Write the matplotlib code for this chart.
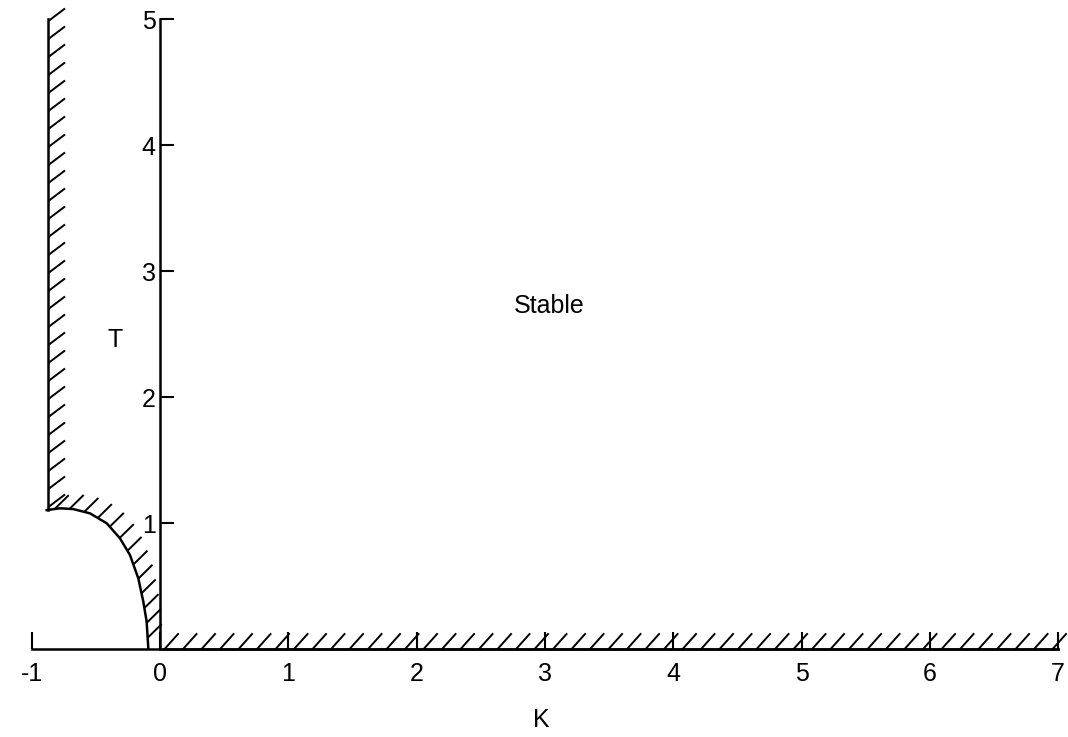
import numpy as np
import matplotlib
matplotlib.use("Agg")
import matplotlib.pyplot as plt
from matplotlib.collections import LineCollection

plt.rcParams['font.family'] = ['Liberation Sans', 'DejaVu Sans']
plt.rcParams['axes.unicode_minus'] = False

# stability boundary
wall_K = [-0.87, -0.87]
wall_T = [5.0, 1.10]
curve_K = [-0.883, -0.779, -0.676, -0.546, -0.415, -0.312, -0.234, -0.169, -0.130, -0.104, -0.091]
curve_T = [1.103, 1.117, 1.111, 1.077, 0.998, 0.879, 0.746, 0.561, 0.376, 0.217, 0.006]
floor_K = [0.02, 7.0]
floor_T = [0.0, 0.0]

x_ticks = [-1, 0, 1, 2, 3, 4, 5, 6, 7]
y_ticks = [1, 2, 3, 4, 5]

# pixel scale of one unit (used to space the hatch strokes evenly)
sx, sy = 128.3, 126.0


def hatch(ax, K, T, step=18, dx=0.10, dy=0.10, first=0.0):
    K = np.asarray(K, float)
    T = np.asarray(T, float)
    seg = np.hypot(np.diff(K) * sx, np.diff(T) * sy)
    s = np.concatenate([[0], np.cumsum(seg)])
    at = np.arange(first, s[-1] + 0.01, step)
    hk = np.interp(at, s, K)
    ht = np.interp(at, s, T)
    lines = [[(a, b), (a + dx, b + dy)] for a, b in zip(hk, ht)]
    ax.add_collection(LineCollection(lines, colors='black', linewidths=1.4))


fig = plt.figure(figsize=(10.68, 7.37), dpi=100)
ax = fig.add_axes([0, 0, 1, 1])
ax.set_xlim(-1.247, 7.077)
ax.set_ylim(-0.698, 5.151)

ax.plot(wall_K, wall_T, color='black', lw=1.8)
ax.plot(curve_K, curve_T, color='black', lw=1.8)
ax.plot(floor_K, floor_T, color='black', lw=1.8)

hatch(ax, wall_K, wall_T, step=18, dx=0.13, dy=0.10, first=2)
hatch(ax, curve_K, curve_T, step=15, dx=0.11, dy=0.11, first=8)
hatch(ax, floor_K, floor_T, step=18.5, dx=0.11, dy=0.125, first=2)

for s in ['top', 'right']:
    ax.spines[s].set_visible(False)
ax.spines['left'].set_position(('data', 0))
ax.spines['left'].set_bounds(0, 5)
ax.spines['bottom'].set_position(('data', 0))
ax.spines['bottom'].set_bounds(-1, 7)
for s in ['left', 'bottom']:
    ax.spines[s].set_linewidth(1.8)

ax.set_xticks(x_ticks)
ax.set_xticklabels([str(v) for v in x_ticks])
ax.set_yticks(y_ticks)
ax.set_yticklabels([str(v) for v in y_ticks])
ax.tick_params(axis='x', direction='in', length=12, width=1.5, pad=9, labelsize=18)
ax.tick_params(axis='y', direction='in', length=10, width=1.5, pad=3, labelsize=18)

ax.text(2.97, -0.56, 'K', fontsize=18, ha='center', va='center')
ax.text(-0.35, 2.45, 'T', fontsize=18, ha='center', va='center')
ax.text(3.03, 2.72, 'Stable', fontsize=18, ha='center', va='center')

fig.savefig('out.png', dpi=100)
